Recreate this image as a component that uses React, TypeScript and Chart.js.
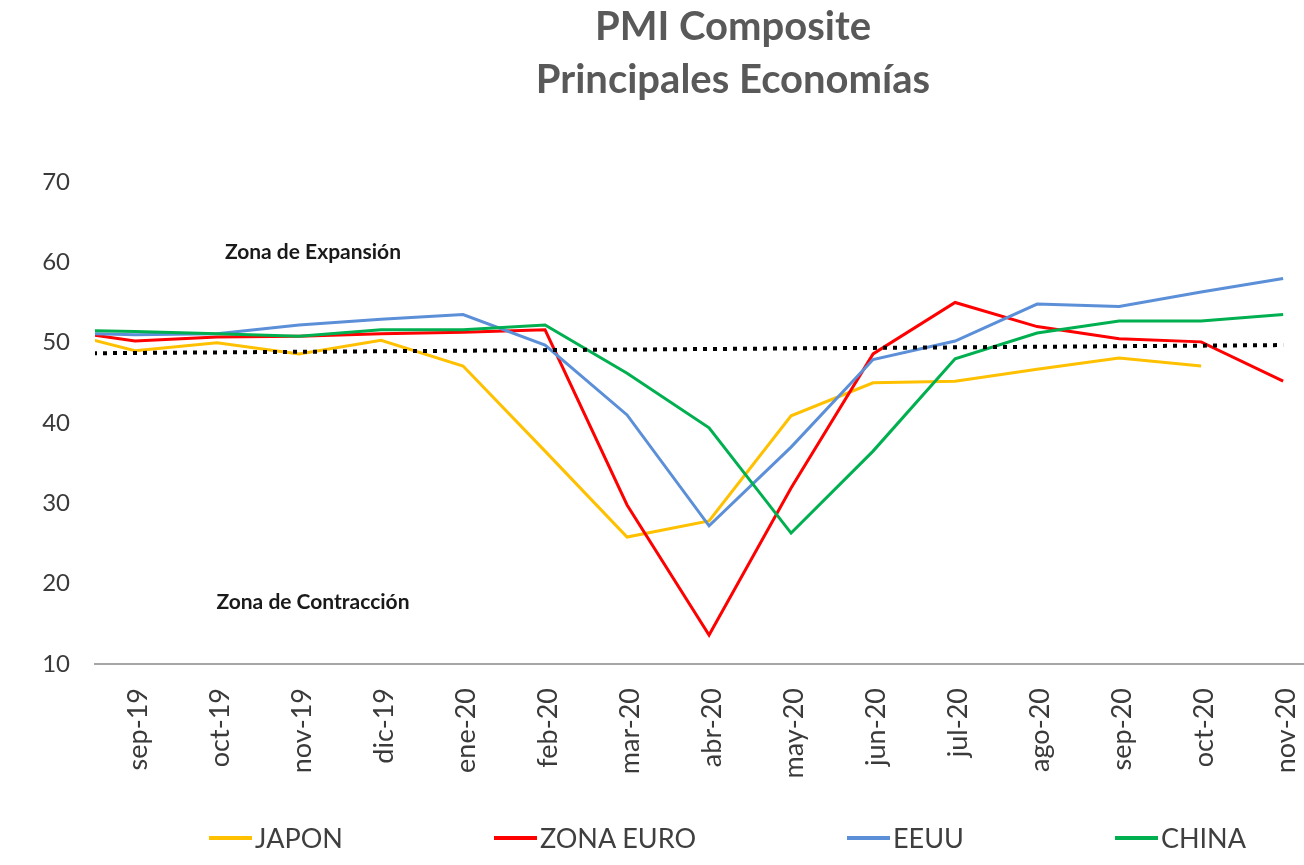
import React, { useEffect, useRef } from 'react';
import { Chart, registerables } from 'chart.js';

Chart.register(...registerables);

// ---- data ----
const leadLabel = 'ago-19'; // first value, partly clipped at the left edge of the plot
const categories = ['sep-19', 'oct-19', 'nov-19', 'dic-19', 'ene-20', 'feb-20', 'mar-20', 'abr-20', 'may-20', 'jun-20', 'jul-20', 'ago-20', 'sep-20', 'oct-20', 'nov-20'];
const seriesNames = ['JAPON', 'ZONA EURO', 'EEUU', 'CHINA'];
// values: [ago-19, sep-19 ... nov-20]
const japon = [51.6, 49.0, 50.0, 48.6, 50.3, 47.1, 36.5, 25.8, 27.8, 40.9, 45.0, 45.2, 46.7, 48.1, 47.1, null];
const zonaEuro = [51.7, 50.2, 50.7, 50.8, 51.1, 51.3, 51.6, 29.8, 13.6, 31.9, 48.6, 55.0, 52.0, 50.5, 50.1, 45.2];
const eeuu = [51.2, 51.0, 51.1, 52.2, 52.9, 53.5, 49.7, 41.0, 27.2, 37.0, 47.9, 50.2, 54.8, 54.5, 56.3, 58.0];
const china = [51.6, 51.4, 51.1, 50.8, 51.6, 51.6, 52.2, 46.2, 39.4, 26.3, 36.5, 48.0, 51.2, 52.7, 52.7, 53.5];
// dotted threshold line (start at ago-19, end at nov-20)
const umbralX = [-1, 14];
const umbralY = [48.65, 49.7];
const yTicks = [10, 20, 30, 40, 50, 60, 70];
const zoneLabels = ['Zona de Expansión', 'Zona de Contracción'];
const zoneX = [2.17, 2.17];
const zoneY = [61.2, 17.7];

const colors = ['#FFC000', '#FF0000', '#5B8FD8', '#00B050'];

const toPoints = (vals: (number | null)[]) => vals.map((y, i) => ({ x: i - 1, y }));

const zonePlugin = {
  id: 'zones',
  afterDatasetsDraw(chart: any) {
    const { ctx, scales } = chart;
    const x = scales.x;
    const y = scales.y;
    ctx.save();
    ctx.font = 'bold 21px Lato, "Noto Sans", sans-serif';
    ctx.fillStyle = '#1a1a1a';
    ctx.textAlign = 'center';
    ctx.textBaseline = 'middle';
    zoneLabels.forEach((t, i) => {
      ctx.fillText(t, x.getPixelForValue(zoneX[i]), y.getPixelForValue(zoneY[i]));
    });
    ctx.restore();
  },
};

export default function App() {
  const ref = useRef<HTMLCanvasElement>(null);

  useEffect(() => {
    Chart.defaults.font.family = 'Lato, "Noto Sans", sans-serif';
    const allSeries = [japon, zonaEuro, eeuu, china];
    const datasets: any[] = allSeries.map((vals, i) => ({
      label: seriesNames[i],
      data: toPoints(vals),
      borderColor: colors[i],
      backgroundColor: colors[i],
      borderWidth: 3,
      pointRadius: 0,
      tension: 0,
      clip: 0,
      order: 4 - i,
    }));
    datasets.push({
      label: 'Umbral',
      data: umbralX.map((x, i) => ({ x, y: umbralY[i] })),
      borderColor: '#000000',
      backgroundColor: '#000000',
      borderWidth: 4,
      borderDash: [4, 6],
      pointRadius: 0,
      clip: 0,
      order: 0,
    });

    const chart = new Chart(ref.current!, {
      type: 'line',
      data: { datasets },
      plugins: [zonePlugin],
      options: {
        animation: false,
        responsive: false,
        devicePixelRatio: 1,
        events: [],
        layout: { padding: 0 },
        plugins: {
          tooltip: { enabled: false },
          legend: { display: false },
          title: {
            display: true,
            text: ['PMI Composite', 'Principales Economías'],
            color: '#595959',
            font: { size: 40, weight: 'bold', lineHeight: 1.33 },
            padding: { top: 0, bottom: 75.6 },
          },
        },
        scales: {
          x: {
            type: 'linear',
            min: -0.488,
            max: 16.23,
            grid: { display: false, drawTicks: false },
            border: { display: true, color: '#a6a6a6', width: 2 },
            afterBuildTicks: (s: any) => {
              s.ticks = categories.map((_, i) => ({ value: i }));
            },
            afterFit: (s: any) => {
              s.height = 201;
            },
            ticks: {
              autoSkip: false,
              maxRotation: 90,
              minRotation: 90,
              padding: 24,
              labelOffset: 3,
              color: '#3a3a3a',
              font: { size: 27 },
              callback: (v: any) => categories[v] ?? '',
            },
          },
          y: {
            min: 10,
            max: 70,
            grid: { display: false, drawTicks: false },
            border: { display: false },
            afterBuildTicks: (s: any) => {
              s.ticks = yTicks.map((v) => ({ value: v }));
            },
            afterFit: (s: any) => {
              s.width = 95;
            },
            ticks: {
              padding: 25,
              color: '#3a3a3a',
              font: { size: 24 },
            },
          },
        },
      } as any,
    });
    return () => chart.destroy();
  }, []);

  return (
    <div style={{ position: 'fixed', left: 0, top: 0, width: 1304, height: 865, overflow: 'hidden', background: '#ffffff' }}>
      <canvas ref={ref} width={1466} height={865} style={{ display: 'block' }} />
      <div
        style={{
          position: 'absolute',
          left: 209,
          top: 821,
          display: 'flex',
          alignItems: 'center',
          fontFamily: 'Lato, "Noto Sans", sans-serif',
          fontSize: 27,
          lineHeight: '34px',
          color: '#3f3f3f',
          whiteSpace: 'nowrap',
        }}
      >
        {seriesNames.map((n, i) => (
          <div key={n} style={{ display: 'flex', alignItems: 'center', marginRight: i < seriesNames.length - 1 ? 151 : 0 }}>
            <span style={{ display: 'inline-block', width: 43, height: 4, background: colors[i], marginRight: 3 }} />
            <span>{n}</span>
          </div>
        ))}
      </div>
    </div>
  );
}
